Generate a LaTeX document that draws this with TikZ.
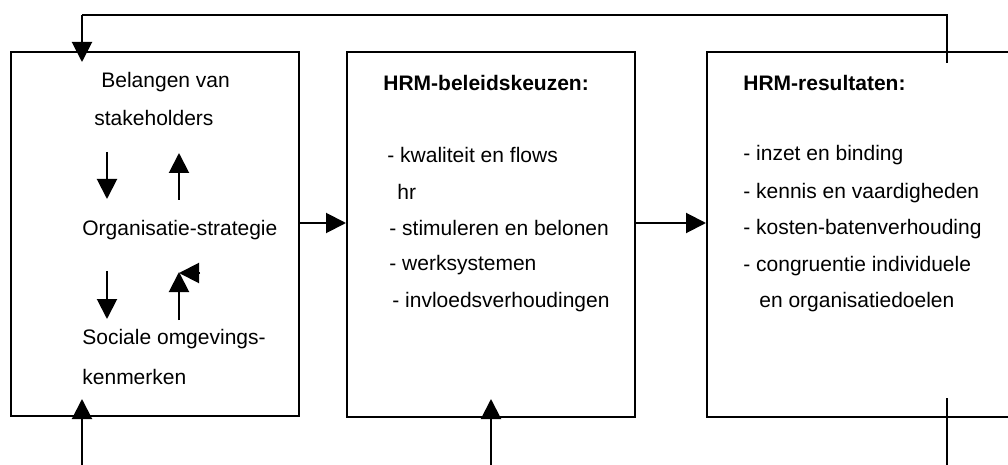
\documentclass[tikz,border=0pt]{standalone}
\usepackage{fontspec}
\setmainfont{Liberation Sans}
\usetikzlibrary{arrows.meta}

\tikzset{
  box/.style={draw, line width=1pt, inner sep=0pt, minimum width=144pt, minimum height=182pt},
  txt/.style={anchor=west, inner sep=0pt, font=\fontsize{10.5}{12}\selectfont},
  head/.style={txt, font=\fontsize{10.5}{12}\selectfont\bfseries},
  arr/.style={line width=1pt, -{Triangle[width=10pt,length=10pt]}},
  ln/.style={line width=1pt}
}

\begin{document}
\begin{tikzpicture}[x=0.5pt,y=-0.5pt]
\useasboundingbox (0,0) rectangle (1008,465);

% three blocks
\node[box] (lbox) at (155,234) {};
\node[box] (mbox) at (491,234.5) {};
\node[box, minimum width=160pt] (rbox) at (867,234.5) {};

% left block
\node[txt] (bel) at (101,82) {Belangen van};
\node[txt] (sta) at (94,118) {stakeholders};
\node[txt] (org) at (82,230) {Organisatie-strategie};
\node[txt] (soc) at (82,339) {Sociale omgevings-};
\node[txt] (ken) at (82,377) {kenmerken};

% middle block
\node[head] (hb) at (383,83) {HRM-beleidskeuzen:};
\node[txt] (m1) at (387,155) {- kwaliteit en flows};
\node[txt] (m1b) at (397,192) {hr};
\node[txt] (m2) at (389,228) {- stimuleren en belonen};
\node[txt] (m3) at (389,265) {- werksystemen};
\node[txt] (m4) at (392,302) {- invloedsverhoudingen};

% right block
\node[head] (hr) at (743,83) {HRM-resultaten:};
\node[txt] (r1) at (743,155) {- inzet en binding};
\node[txt] (r2) at (743,193) {- kennis en vaardigheden};
\node[txt] (r3) at (743,229) {- kosten-batenverhouding};
\node[txt] (r4) at (743,266) {- congruentie individuele};
\node[txt] (r4b) at (759,302) {en organisatiedoelen};

% arrows inside left block
\coordinate (d1a) at (107,152); \coordinate (d1b) at (107,199);
\coordinate (u1a) at (179,200); \coordinate (u1b) at (179,153);
\coordinate (d2a) at (107,271); \coordinate (d2b) at (107,319);
\coordinate (u2a) at (179,320); \coordinate (u2b) at (179,272);
\coordinate (s1) at (200,273); \coordinate (s2) at (179,273);
\draw[arr] (d1a) -- (d1b);
\draw[arr] (u1a) -- (u1b);
\draw[arr] (d2a) -- (d2b);
\draw[arr] (u2a) -- (u2b);
\draw[arr] (s1) -- (s2);

% arrows between blocks
\coordinate (mid) at (0,223);
\draw[arr] (lbox.east |- mid) -- (mbox.west |- mid);
\draw[arr] (mbox.east |- mid) -- (rbox.west |- mid);

% feedback line
\coordinate (top) at (0,15);
\coordinate (fbR) at (947,63);
\coordinate (fbL) at (82,62);
\draw[ln] (fbR) -- (fbR |- top) -- (fbL |- top);
\draw[arr] (fbL |- top) -- (fbL);

% inputs from below
\coordinate (b1) at (82,465); \coordinate (b1e) at (82,399);
\coordinate (b2) at (491,465); \coordinate (b2e) at (491,399);
\coordinate (b3) at (947,465); \coordinate (b3e) at (947,398);
\draw[arr] (b1) -- (b1e);
\draw[arr] (b2) -- (b2e);
\draw[ln] (b3) -- (b3e);

\end{tikzpicture}
\end{document}
